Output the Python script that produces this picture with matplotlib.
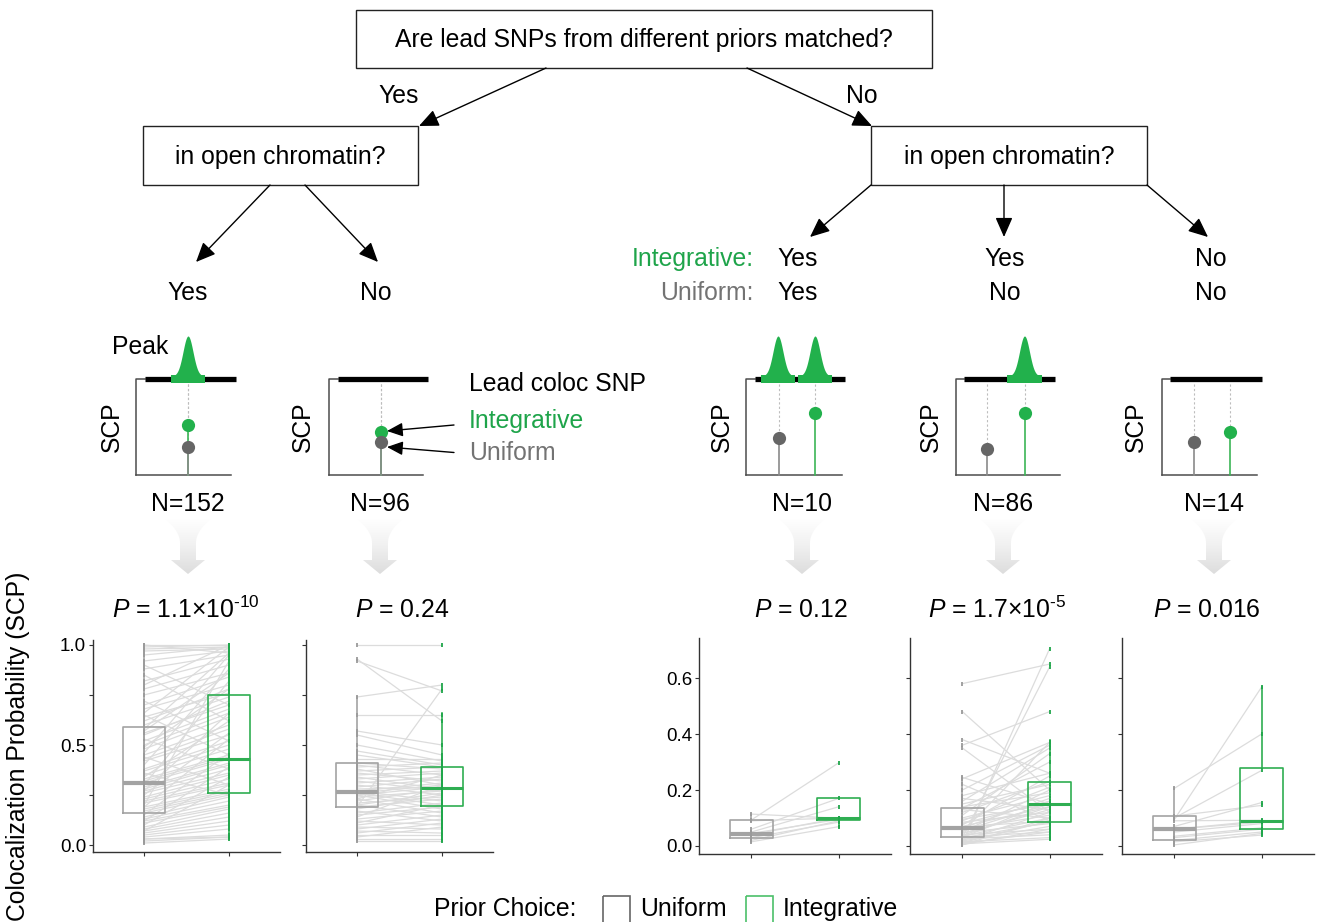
import numpy as np
import matplotlib
matplotlib.use("Agg")
import matplotlib.pyplot as plt
from matplotlib.patches import Rectangle, Polygon
from matplotlib.collections import LineCollection
from matplotlib.colors import LinearSegmentedColormap

plt.rcParams['font.family'] = ['Liberation Sans', 'DejaVu Sans']
plt.rcParams['mathtext.fontset'] = 'custom'
plt.rcParams['mathtext.rm'] = 'Liberation Sans'
plt.rcParams['mathtext.it'] = 'Liberation Sans:italic'
plt.rcParams['mathtext.bf'] = 'Liberation Sans:bold'

GREEN = '#22b14c'
GREEN_TXT = '#1ea44a'
GREEN_BOX = '#2fae52'
GRAY_BOX = '#a3a3a3'
GRAY_DOT = '#666666'
GRAY_TXT = '#737373'
PAIR_LINE = '#dcdcdc'

# ---------------- data ----------------
group_counts = [152, 96, 10, 86, 14]
p_labels = ["$\\mathit{P}$ = 1.1×10$^{\u201010}$", "$\\mathit{P}$ = 0.24",
            "$\\mathit{P}$ = 0.12", "$\\mathit{P}$ = 1.7×10$^{\u20105}$",
            "$\\mathit{P}$ = 0.016"]

# schematic lead-SNP SCP heights (fraction of schematic axis height)
schem_uniform = [0.29, 0.34, 0.39, 0.27, 0.34]
schem_integrative = [0.52, 0.45, 0.65, 0.65, 0.45]

# box statistics: (whislo, q1, med, q3, whishi)
box_uniform = [
    (0.01, 0.16, 0.31, 0.59, 1.00),
    (0.02, 0.19, 0.265, 0.41, 0.74),
    (0.015, 0.029, 0.042, 0.093, 0.114),
    (0.004, 0.033, 0.065, 0.135, 0.245),
    (0.004, 0.021, 0.060, 0.107, 0.206),
]
box_integrative = [
    (0.03, 0.26, 0.43, 0.75, 1.00),
    (0.02, 0.195, 0.285, 0.39, 0.66),
    (0.069, 0.093, 0.099, 0.17, 0.17),
    (0.024, 0.085, 0.149, 0.227, 0.378),
    (0.039, 0.060, 0.089, 0.277, 0.568),
]

# paired SCP values per locus (uniform prior, integrative prior)
g1_uniform = [1.00, 0.99, 0.98, 0.97, 1.00, 0.95, 0.92, 0.88, 0.82, 0.78,
              0.75, 0.70, 0.68, 0.64, 0.62, 0.60, 0.58, 0.56, 0.55, 0.52,
              0.50, 0.48, 0.46, 0.45, 0.43, 0.42, 0.40, 0.38, 0.37, 0.35,
              0.34, 0.33, 0.32, 0.31, 0.30, 0.29, 0.28, 0.27, 0.26, 0.25,
              0.24, 0.23, 0.22, 0.21, 0.20, 0.19, 0.18, 0.17, 0.16, 0.15,
              0.14, 0.13, 0.12, 0.11, 0.10, 0.09, 0.08, 0.07, 0.06, 0.05,
              0.04, 0.03, 0.02, 0.01, 0.03, 0.65, 0.85, 0.72, 0.90, 0.36,
              0.44, 0.53, 0.27, 0.19, 0.12, 0.07, 0.80, 0.66, 0.57, 0.49]
g1_integrative = [1.00, 1.00, 0.99, 0.98, 0.96, 0.99, 0.97, 0.95, 0.93, 0.90,
                  0.86, 0.84, 0.80, 0.76, 0.78, 0.74, 0.96, 0.70, 0.72, 0.68,
                  0.66, 0.64, 0.95, 0.60, 0.58, 0.55, 0.88, 0.52, 0.50, 0.48,
                  0.62, 0.45, 0.44, 0.43, 0.82, 0.41, 0.40, 0.38, 0.36, 0.56,
                  0.35, 0.33, 0.31, 0.30, 0.92, 0.28, 0.27, 0.26, 0.25, 0.46,
                  0.24, 0.22, 0.20, 0.19, 0.34, 0.18, 0.16, 0.14, 0.12, 0.10,
                  0.08, 0.05, 0.04, 0.03, 0.04, 0.45, 0.62, 0.52, 0.70, 0.25,
                  0.30, 0.38, 0.66, 0.53, 0.39, 0.30, 1.00, 0.99, 0.86, 0.78]

g2_uniform = [1.00, 0.92, 0.74, 0.19, 0.65, 0.57, 0.55, 0.50, 0.47, 0.45,
              0.43, 0.41, 0.40, 0.39, 0.38, 0.37, 0.36, 0.35, 0.34, 0.33,
              0.32, 0.31, 0.30, 0.29, 0.28, 0.27, 0.27, 0.26, 0.26, 0.25,
              0.25, 0.24, 0.23, 0.23, 0.22, 0.21, 0.20, 0.20, 0.19, 0.18,
              0.17, 0.16, 0.15, 0.14, 0.13, 0.12, 0.11, 0.10, 0.09, 0.08,
              0.07, 0.06, 0.05, 0.04, 0.03, 0.02, 0.93]
g2_integrative = [1.00, 0.77, 0.80, 0.78, 0.65, 0.50, 0.45, 0.42, 0.40, 0.39,
                  0.43, 0.38, 0.35, 0.41, 0.30, 0.39, 0.32, 0.37, 0.28, 0.36,
                  0.27, 0.34, 0.25, 0.33, 0.29, 0.31, 0.22, 0.30, 0.20, 0.29,
                  0.18, 0.27, 0.35, 0.16, 0.28, 0.24, 0.26, 0.14, 0.23, 0.25,
                  0.12, 0.21, 0.19, 0.30, 0.17, 0.10, 0.20, 0.15, 0.08, 0.13,
                  0.06, 0.11, 0.05, 0.09, 0.03, 0.02, 0.62]

g3_uniform = [0.093, 0.114, 0.050, 0.040, 0.030, 0.015, 0.060, 0.045, 0.020, 0.090]
g3_integrative = [0.297, 0.099, 0.140, 0.100, 0.085, 0.069, 0.170, 0.095, 0.090, 0.100]

g4_uniform = [0.58, 0.48, 0.38, 0.36, 0.35, 0.01, 0.03, 0.245, 0.24, 0.22,
              0.20, 0.18, 0.17, 0.16, 0.15, 0.14, 0.135, 0.13, 0.12, 0.11,
              0.10, 0.095, 0.09, 0.085, 0.08, 0.075, 0.07, 0.068, 0.065, 0.06,
              0.055, 0.05, 0.048, 0.045, 0.04, 0.038, 0.035, 0.033, 0.03, 0.028,
              0.025, 0.02, 0.018, 0.015, 0.012, 0.01, 0.008, 0.005, 0.004, 0.05]
g4_integrative = [0.65, 0.20, 0.26, 0.48, 0.12, 0.705, 0.64, 0.15, 0.37, 0.09,
                  0.36, 0.26, 0.13, 0.35, 0.22, 0.19, 0.30, 0.10, 0.23, 0.33,
                  0.18, 0.15, 0.21, 0.12, 0.16, 0.25, 0.14, 0.09, 0.17, 0.11,
                  0.15, 0.20, 0.08, 0.13, 0.06, 0.14, 0.10, 0.05, 0.16, 0.085,
                  0.04, 0.12, 0.07, 0.03, 0.09, 0.05, 0.024, 0.06, 0.10, 0.37]

g5_uniform = [0.206, 0.095, 0.107, 0.060, 0.060, 0.035, 0.020, 0.004, 0.070,
              0.090, 0.030, 0.050, 0.100, 0.015]
g5_integrative = [0.400, 0.568, 0.145, 0.085, 0.090, 0.065, 0.050, 0.045, 0.155,
                  0.092, 0.060, 0.080, 0.270, 0.039]

pairs = [(g1_uniform, g1_integrative), (g2_uniform, g2_integrative),
         (g3_uniform, g3_integrative), (g4_uniform, g4_integrative),
         (g5_uniform, g5_integrative)]

# ---------------- figure ----------------
W, H = 1319, 922
fig = plt.figure(figsize=(W / 100, H / 100), dpi=100)
ax0 = fig.add_axes([0, 0, 1, 1])
ax0.set_xlim(0, W)
ax0.set_ylim(H, 0)
ax0.axis('off')

FS = 17.8
DY = 1.2  # small downward nudge for centred text


def txt(x, y, s, ha='center', color='black', **kw):
    ax0.text(x, y + DY, s, ha=ha, va='center', fontsize=FS, color=color, **kw)


def arrow(x0, y0, x1, y1, ms=16, hl=0.75, hw=0.33):
    ax0.annotate('', xy=(x1, y1), xytext=(x0, y0),
                 arrowprops=dict(arrowstyle=f'-|>,head_length={hl},head_width={hw}',
                                 lw=1.0, color='black', mutation_scale=ms,
                                 shrinkA=0, shrinkB=0))


def node(x0, y0, x1, y1, label):
    ax0.add_patch(Rectangle((x0, y0), x1 - x0, y1 - y0, fc='white', ec='#222222', lw=1.0))
    txt((x0 + x1) / 2, (y0 + y1) / 2, label)


# decision tree
node(356, 10, 932, 68, 'Are lead SNPs from different priors matched?')
node(143, 126, 418, 185, 'in open chromatin?')
node(871, 126, 1147, 185, 'in open chromatin?')
arrow(546, 68, 419, 126)
arrow(747, 68, 872, 126)
txt(399, 95, 'Yes')
txt(862, 95, 'No')
arrow(270, 185, 196, 262)
arrow(305, 185, 378, 262)
arrow(871, 185, 810, 237)
arrow(1004, 185, 1004, 237)
arrow(1147, 185, 1208, 237)
txt(188, 292, 'Yes')
txt(376, 292, 'No')
txt(754, 258, 'Integrative:', ha='right', color=GREEN_TXT)
txt(754, 292, 'Uniform:', ha='right', color=GRAY_TXT)
txt(798, 258, 'Yes')
txt(798, 292, 'Yes')
txt(1005, 258, 'Yes')
txt(1005, 292, 'No')
txt(1211, 258, 'No')
txt(1211, 292, 'No')

# ---------------- schematics ----------------
BASE_Y, BAR_Y = 475, 379


def peak(cx):
    xs = np.linspace(-13, 13, 80)
    ys = 40 * np.exp(-0.5 * (xs / 5.0) ** 2)
    ax0.fill_between(cx + xs, BAR_Y - 3, BAR_Y - 3 - ys, color=GREEN, lw=0, zorder=3)


def schematic(ax_x, ax_x1, bar_x0, bar_x1, snp_u, snp_i, val_u, val_i, open_regions):
    ax0.plot([ax_x, ax_x, bar_x0], [BASE_Y, BAR_Y, BAR_Y], color='#4d4d4d', lw=1.1, zorder=2)
    ax0.plot([ax_x, ax_x1], [BASE_Y, BASE_Y], color='#4d4d4d', lw=1.1, zorder=2)
    ax0.plot([bar_x0, bar_x1], [BAR_Y, BAR_Y], color='black', lw=3.8, solid_capstyle='butt', zorder=3)
    for (r0, r1) in open_regions:
        ax0.add_patch(Rectangle((r0, BAR_Y - 4.2), r1 - r0, 8.4, color=GREEN, lw=0, zorder=4))
        peak((r0 + r1) / 2)
    span = BASE_Y - BAR_Y
    yu = BASE_Y - val_u * span
    yi = BASE_Y - val_i * span
    for x, y in ((snp_u, yu), (snp_i, yi)):
        ax0.plot([x, x], [BAR_Y + 5, y], color='#bdbdbd', lw=0.8, ls=(0, (2, 2)), zorder=2)
    ax0.plot([snp_i, snp_i], [BASE_Y, yi], color='#3cb556', lw=1.2, zorder=3)
    ax0.plot([snp_u, snp_u], [BASE_Y, yu], color='#8a8a8a', lw=1.2, zorder=3)
    ax0.plot([snp_i], [yi], 'o', ms=9.5, color=GREEN, mec='none', zorder=5)
    ax0.plot([snp_u], [yu], 'o', ms=9.5, color=GRAY_DOT, mec='none', zorder=5)
    return yu, yi


schematic(136, 231, 145, 236, 187.5, 187.5, schem_uniform[0], schem_integrative[0], [(171, 205)])
schematic(329, 423, 338, 428, 380.5, 380.5, schem_uniform[1], schem_integrative[1], [])
schematic(746, 842, 755, 845, 778.5, 815, schem_uniform[2], schem_integrative[2], [(761, 795), (798, 832)])
schematic(956, 1060, 964, 1055, 987, 1024.5, schem_uniform[3], schem_integrative[3], [(1007, 1042)])
schematic(1162, 1257, 1170, 1262, 1193.5, 1230, schem_uniform[4], schem_integrative[4], [])

txt(140, 346, 'Peak')
txt(469, 383, 'Lead coloc SNP', ha='left')
txt(469, 420, 'Integrative', ha='left', color=GREEN_TXT)
txt(469, 452, 'Uniform', ha='left', color=GRAY_TXT)
arrow(454, 425, 387, 431, ms=12, hl=0.8, hw=0.35)
arrow(454, 452.5, 387, 447, ms=12, hl=0.8, hw=0.35)

for sx in (112, 303, 722, 931, 1136):
    ax0.text(sx, 427, 'SCP', rotation=90, ha='center', va='center', fontsize=FS)

n_x = [188, 380, 802, 1003, 1214]
for x, n in zip(n_x, group_counts):
    txt(x, 503, f'N={n}')

# gradient funnel arrows
fade = LinearSegmentedColormap.from_list('fade', ['#ffffff', '#f0f0f0', '#dcdcdc'])


def funnel(cx):
    top, neck, head, tip = 519, 543, 560, 574
    t = np.linspace(0, 1, 24)
    left = list(zip(cx - 8 - 15 * (1 - t) ** 2, top + (neck - top) * t))
    verts = left + [(cx - 8, head), (cx - 17, head), (cx, tip), (cx + 17, head), (cx + 8, head)]
    verts += [(2 * cx - x, y) for x, y in left[::-1]]
    poly = Polygon(verts, closed=True, fc='none', ec='none')
    ax0.add_patch(poly)
    grad = np.linspace(0, 1, 100).reshape(-1, 1)
    im = ax0.imshow(grad, extent=[cx - 26, cx + 26, tip + 1, top - 1], cmap=fade,
                    aspect='auto', origin='upper', interpolation='bilinear', zorder=1)
    im.set_clip_path(poly)


for x in n_x:
    funnel(x)
ax0.set_xlim(0, W)
ax0.set_ylim(H, 0)

# ---------------- box plot panels ----------------
panel_px = [  # (left px, right px, top px, bottom px)
    (93, 280, 640, 852),
    (306, 493, 640, 852),
    (699, 891, 638, 854),
    (910, 1102, 638, 854),
    (1122, 1314, 638, 854),
]
ylims = [(-0.0348, 1.0249)] * 2 + [(-0.0286, 0.743)] * 3
yticks = [[0, 0.25, 0.5, 0.75, 1.0]] * 2 + [[0, 0.2, 0.4, 0.6]] * 3
title_x = [186, 402, 801, 997, 1207]


def stats(t):
    return dict(whislo=t[0], q1=t[1], med=t[2], q3=t[3], whishi=t[4], fliers=[])


for k in range(5):
    l, r, tp, bt = panel_px[k]
    ax = fig.add_axes([l / W, 1 - bt / H, (r - l) / W, (bt - tp) / H])
    ax.set_xlim(0.4, 2.6)
    ax.set_ylim(*ylims[k])
    u, v = pairs[k]
    segs = [[(1, a), (2, b)] for a, b in zip(u, v)]
    ax.add_collection(LineCollection(segs, colors=PAIR_LINE, linewidths=0.9, zorder=1))
    for pos, bx, col, medw in ((1, box_uniform[k], GRAY_BOX, 3.0), (2, box_integrative[k], GREEN_BOX, 2.2)):
        lp = dict(color=col, lw=1.2)
        ax.bxp([stats(bx)], positions=[pos], widths=0.5, showfliers=False, showcaps=False,
               boxprops=lp, whiskerprops=lp, medianprops=dict(color=col, lw=medw),
               manage_ticks=False, zorder=2)
    ax.plot(np.ones(len(u)), u, ls='none', marker='|', ms=3.5, mew=1.3, color='#9a9a9a', zorder=3)
    ax.plot(np.full(len(v), 2.0), v, ls='none', marker='|', ms=3.5, mew=1.3, color='#1fa64a', zorder=3)
    ax.set_xticks([1, 2])
    ax.set_xticklabels([])
    ax.set_yticks(yticks[k])
    if k == 0:
        ax.set_yticklabels(['0.0', '', '0.5', '', '1.0'])
    elif k == 2:
        ax.set_yticklabels(['0.0', '0.2', '0.4', '0.6'])
    else:
        ax.set_yticklabels([])
    for s in ('top', 'right'):
        ax.spines[s].set_visible(False)
    for s in ('left', 'bottom'):
        ax.spines[s].set_color('#333333')
        ax.spines[s].set_linewidth(1.0)
    ax.tick_params(length=3, width=0.8, color='#333333', labelsize=13.5, pad=2)
    ax.patch.set_alpha(0)
    ax0.text(title_x[k], 609 + DY, p_labels[k], ha='center', va='center', fontsize=FS)

ax0.text(18, 746, 'Colocalization Probability (SCP)', rotation=90, ha='center', va='center', fontsize=FS)

# legend
ax0.text(434, 908 + DY, 'Prior Choice:', ha='left', va='center', fontsize=FS)
ax0.add_patch(Rectangle((603, 896), 27, 32, fc='none', ec='#666666', lw=1.2))
ax0.text(640, 908 + DY, 'Uniform', ha='left', va='center', fontsize=FS)
ax0.add_patch(Rectangle((746, 896), 27, 32, fc='none', ec='#4cc06a', lw=1.2))
ax0.text(783, 908 + DY, 'Integrative', ha='left', va='center', fontsize=FS)

fig.savefig('out.png', dpi=100)
